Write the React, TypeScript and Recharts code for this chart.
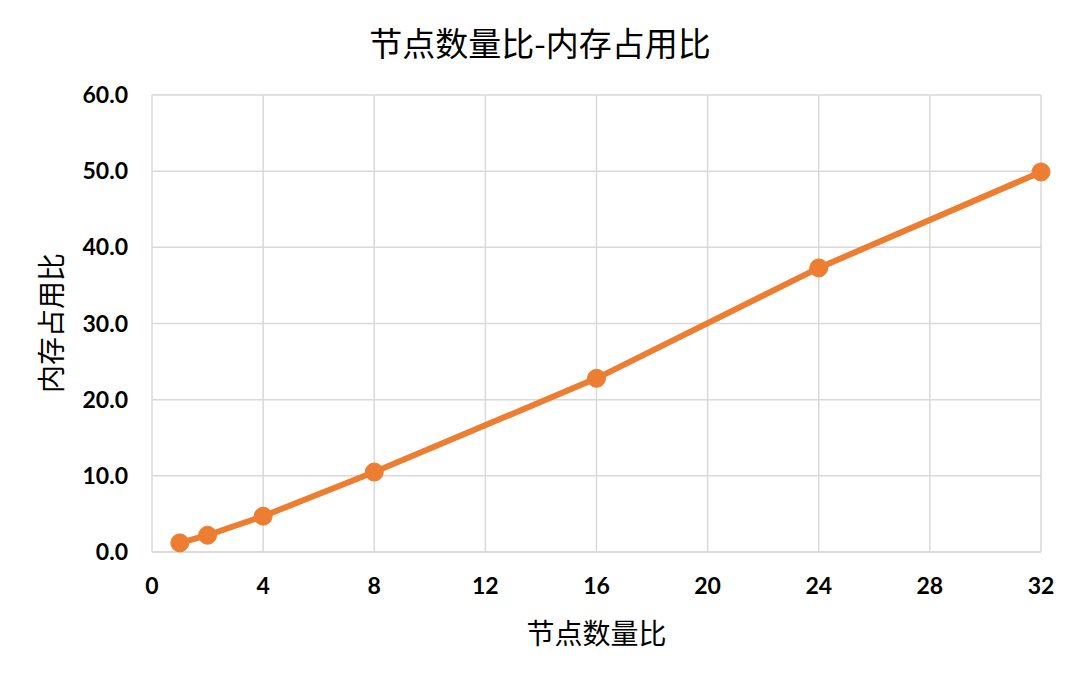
import React from 'react';
import { LineChart, Line, XAxis, YAxis, CartesianGrid } from 'recharts';

const nodeRatio = [1, 2, 4, 8, 16, 24, 32];
const memoryRatio = [1.2, 2.2, 4.7, 10.5, 22.8, 37.3, 49.9];
const xTicks = [0, 4, 8, 12, 16, 20, 24, 28, 32];
const yTicks = [0, 10, 20, 30, 40, 50, 60];

const data = nodeRatio.map((x, i) => ({ x, y: memoryRatio[i] }));

const cjk = '"Noto Sans CJK SC", "Noto Sans", sans-serif';
const num = 'Lato, "Noto Sans", sans-serif';

const App: React.FC = () => {
    return (
        <div style={{ position: 'absolute', left: 0, top: 0, width: 1080, height: 677, background: '#fff' }}>
            <div style={{
                position: 'absolute', top: 18, left: 0, width: 1080, textAlign: 'center',
                fontFamily: cjk, fontSize: 33, color: '#000'
            }}>
                节点数量比-内存占用比
            </div>
            <div style={{
                position: 'absolute', top: 612, left: 0, width: 1080, textAlign: 'center', paddingLeft: 113,
                boxSizing: 'border-box', fontFamily: cjk, fontSize: 28, color: '#000'
            }}>
                节点数量比
            </div>
            <div style={{
                position: 'absolute', left: 50, top: 323, transform: 'translate(-50%, -50%) rotate(-90deg)',
                whiteSpace: 'nowrap', fontFamily: cjk, fontSize: 28, color: '#000'
            }}>
                内存占用比
            </div>
            <LineChart
                width={1080}
                height={677}
                data={data}
                margin={{ top: 95, right: 39, bottom: 95, left: 0 }}
            >
                <CartesianGrid stroke="#d9d9d9" strokeWidth={1.5} />
                <XAxis
                    dataKey="x"
                    type="number"
                    domain={[0, 32]}
                    ticks={xTicks}
                    height={30}
                    axisLine={{ stroke: '#d9d9d9', strokeWidth: 1.5 }}
                    tickLine={false}
                    tickMargin={20}
                    tick={{ fontSize: 23, fontWeight: 700, fill: '#000', fontFamily: num }}
                />
                <YAxis
                    type="number"
                    domain={[0, 60]}
                    ticks={yTicks}
                    width={152}
                    axisLine={false}
                    tickLine={false}
                    tickMargin={18}
                    tickFormatter={(v: number) => v.toFixed(1)}
                    tick={{ fontSize: 23, fontWeight: 700, fill: '#000', fontFamily: num }}
                />
                <Line
                    dataKey="y"
                    stroke="#ED7D31"
                    strokeWidth={6}
                    dot={{ r: 9, fill: '#ED7D31', stroke: '#ED7D31', strokeWidth: 1 }}
                    isAnimationActive={false}
                />
            </LineChart>
        </div>
    );
};

export default App;
